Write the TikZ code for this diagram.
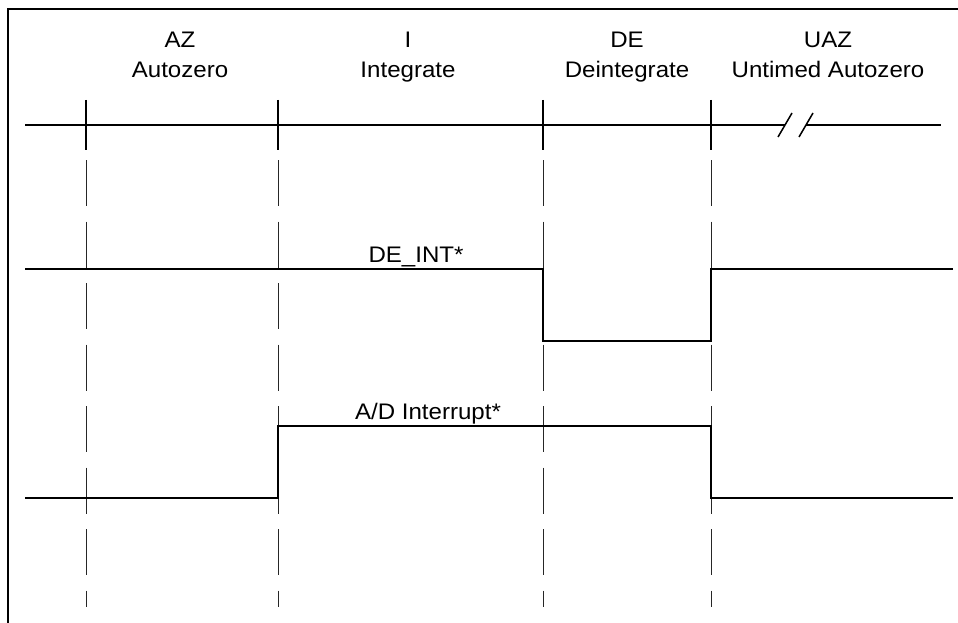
\documentclass[tikz,border=0pt]{standalone}
\usepackage{fontspec}
\setmainfont{Liberation Sans}
\begin{document}
\begin{tikzpicture}[x=1pt,y=-1pt,
  lbl/.style={font=\fontsize{22.5}{22.5}\selectfont, inner sep=0pt, anchor=base, xscale=1.07},
  sig/.style={line width=1.8pt, line join=miter},
  tick/.style={line width=1.8pt},
  guide/.style={line width=0.9pt, black!85, dash pattern=on 46pt off 15.5pt},
  frame/.style={line width=2.5pt}]
\useasboundingbox (0,0) rectangle (958,623);
% frame (left and top edges only)
\draw[frame] (8,623) -- (8,9) -- (958,9);
% phase labels
\node[lbl] (az1) at (180,48) {AZ};
\node[lbl] (az2) at (180,78) {Autozero};
\node[lbl] (i1) at (408,48) {I};
\node[lbl] (i2) at (408,78) {Integrate};
\node[lbl] (de1) at (627,48) {DE};
\node[lbl] (de2) at (627,78) {Deintegrate};
\node[lbl] (uaz1) at (828,48) {UAZ};
\node[lbl] (uaz2) at (828,78) {Untimed Autozero};
% timeline
\coordinate (tl0) at (25,125);
\coordinate (tlb1) at (785,125);
\coordinate (tlb2) at (806,125);
\coordinate (tl1) at (941,125);
\draw[tick] (tl0) -- (tlb1);
\draw[tick] (tlb2) -- (tl1);
\coordinate (s1a) at (778,137); \coordinate (s1b) at (792,113);
\coordinate (s2a) at (799,137); \coordinate (s2b) at (813,113);
\draw[line width=1.5pt] (s1a) -- (s1b);
\draw[line width=1.5pt] (s2a) -- (s2b);
% boundaries
\foreach \n/\x in {a/86,b/278,c/543,d/711}{
  \coordinate (t\n top) at (\x,100);
  \coordinate (t\n bot) at (\x,150);
  \coordinate (g\n top) at (\x,160);
  \coordinate (g\n bot) at (\x,607);
  \draw[tick] (t\n top) -- (t\n bot);
  \draw[guide] (g\n top) -- (g\n bot);
}
% DE_INT* signal
\coordinate (d0) at (25,269);
\coordinate (d1) at (543,269);
\coordinate (d2) at (543,341);
\coordinate (d3) at (711,341);
\coordinate (d4) at (711,269);
\coordinate (d5) at (953,269);
\draw[sig] (d0) -- (d1) -- (d2) -- (d3) -- (d4) -- (d5);
\node[lbl] (deint) at (416,262) {DE\_INT*};
% A/D Interrupt* signal
\coordinate (a0) at (25,498);
\coordinate (a1) at (278,498);
\coordinate (a2) at (278,426);
\coordinate (a3) at (711,426);
\coordinate (a4) at (711,498);
\coordinate (a5) at (953,498);
\draw[sig] (a0) -- (a1) -- (a2) -- (a3) -- (a4) -- (a5);
\node[lbl] (adint) at (428,419) {A/D Interrupt*};
\end{tikzpicture}
\end{document}
